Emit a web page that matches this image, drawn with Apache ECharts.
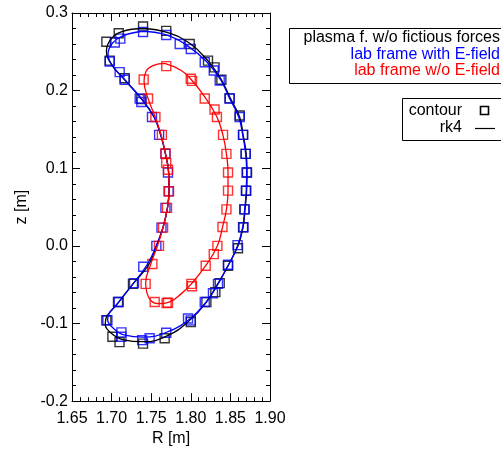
<!DOCTYPE html>
<html>
<head>
<meta charset="utf-8">
<script src="https://cdn.jsdelivr.net/npm/echarts@6/dist/echarts.min.js"></script>
<style>
  html, body { margin: 0; padding: 0; background: #fff; }
  #chart { width: 501px; height: 452px; }
</style>
</head>
<body>
<div id="chart"></div>
<script>
// Orbit cross-section in the (R, z) plane: contour points and rk4 trajectories
const xTicks = [1.65, 1.70, 1.75, 1.80, 1.85, 1.90];
const yTicks = [-0.2, -0.1, 0.0, 0.1, 0.2, 0.3];

const seriesNames = ['plasma f. w/o fictious forces', 'lab frame with E-field', 'lab frame w/o E-field'];
const methodNames = ['contour', 'rk4'];

// contour points, plasma frame without fictitious forces
const blackContour = [
  [1.6934, 0.263], [1.709, 0.274], [1.7397, 0.2826], [1.769, 0.277], [1.7986, 0.260],
  [1.8217, 0.2387], [1.830, 0.230], [1.8386, 0.214], [1.849, 0.190], [1.8617, 0.168],
  [1.866, 0.143], [1.8693, 0.1185], [1.871, 0.0946], [1.870, 0.071], [1.868, 0.047],
  [1.866, 0.024], [1.8596, -0.003], [1.847, -0.0256], [1.8365, -0.048], [1.831, -0.0596],
  [1.8197, -0.0724], [1.800, -0.098], [1.767, -0.119], [1.7397, -0.126], [1.710, -0.124],
  [1.701, -0.117], [1.6934, -0.0959], [1.7081, -0.0724], [1.727, -0.049],
  [1.7376, 0.189], [1.7165, 0.216], [1.6976, 0.2387]
];
// contour points, lab frame with E-field
const blueContour = [
  [1.704, 0.262], [1.711, 0.267], [1.7397, 0.2755], [1.769, 0.2716], [1.786, 0.260],
  [1.800, 0.2537], [1.8176, 0.2366], [1.829, 0.226], [1.8365, 0.213], [1.849, 0.1898],
  [1.8617, 0.166], [1.866, 0.143], [1.8693, 0.1185], [1.8705, 0.0946], [1.8695, 0.071],
  [1.8675, 0.047], [1.8665, 0.024], [1.859, 0.001], [1.847, -0.0243], [1.8343, -0.049],
  [1.828, -0.061], [1.8176, -0.0724], [1.7965, -0.0935], [1.800, -0.096], [1.769, -0.112],
  [1.748, -0.119], [1.7386, -0.1215], [1.7124, -0.117], [1.7124, -0.1115], [1.6947, -0.0959],
  [1.709, -0.0724], [1.7283, -0.048], [1.740, -0.027], [1.7565, 0.0], [1.763, 0.0235],
  [1.768, 0.049], [1.772, 0.0703], [1.7712, 0.0946], [1.768, 0.1185], [1.760, 0.143],
  [1.751, 0.166], [1.7355, 0.1898], [1.7376, 0.1854], [1.7165, 0.214], [1.7102, 0.2238],
  [1.6976, 0.2375]
];
// contour points, lab frame without E-field
const redContour = [
  [1.7405, 0.2144], [1.769, 0.2315], [1.7999, 0.2153], [1.8015, 0.2125], [1.8176, 0.1898],
  [1.830, 0.1757], [1.833, 0.166], [1.8407, 0.143], [1.845, 0.1185], [1.847, 0.0946],
  [1.847, 0.0712], [1.845, 0.047], [1.840, 0.0243], [1.8336, 0.0], [1.829, -0.0106],
  [1.8188, -0.0256], [1.8007, -0.049], [1.8015, -0.052], [1.7712, -0.0733], [1.7695, -0.0737],
  [1.7544, -0.0724], [1.743, -0.049], [1.7515, -0.0234], [1.7598, 0.0], [1.765, 0.0235],
  [1.770, 0.049], [1.7725, 0.0703], [1.7712, 0.098], [1.769, 0.1066], [1.768, 0.1194],
  [1.7635, 0.143], [1.7553, 0.166], [1.746, 0.1898]
];

// rk4 trajectories (closed loops)
const blackRk4 = [
  [1.740, 0.280], [1.770, 0.275], [1.7986, 0.261], [1.822, 0.238], [1.8386, 0.214],
  [1.850, 0.190], [1.8617, 0.166], [1.866, 0.143], [1.870, 0.1185], [1.871, 0.095],
  [1.8705, 0.071], [1.8685, 0.047], [1.866, 0.024], [1.8596, 0.0], [1.847, -0.0256],
  [1.834, -0.049], [1.8197, -0.0724], [1.7986, -0.096], [1.770, -0.116], [1.740, -0.1235],
  [1.715, -0.121], [1.700, -0.113], [1.692, -0.100], [1.6945, -0.090], [1.709, -0.0724],
  [1.727, -0.049], [1.747, -0.024], [1.7565, 0.0], [1.765, 0.024], [1.7705, 0.049],
  [1.7725, 0.071], [1.772, 0.0946], [1.768, 0.1185], [1.762, 0.143], [1.7536, 0.166],
  [1.738, 0.189], [1.7165, 0.214], [1.700, 0.2335], [1.6935, 0.251], [1.699, 0.266],
  [1.713, 0.276], [1.740, 0.280]
];
const blueRk4 = [
  [1.740, 0.2765], [1.770, 0.2715], [1.7955, 0.258], [1.8197, 0.2375], [1.8376, 0.214],
  [1.849, 0.190], [1.8605, 0.166], [1.8655, 0.143], [1.8693, 0.1185], [1.8705, 0.095],
  [1.870, 0.071], [1.868, 0.047], [1.8655, 0.024], [1.859, 0.0], [1.847, -0.0256],
  [1.8345, -0.049], [1.820, -0.0715], [1.7995, -0.0935], [1.770, -0.111], [1.740, -0.1175],
  [1.717, -0.115], [1.702, -0.106], [1.695, -0.095], [1.709, -0.0724], [1.727, -0.049],
  [1.745, -0.024], [1.7565, 0.0], [1.765, 0.024], [1.7705, 0.049], [1.7725, 0.071],
  [1.772, 0.0946], [1.768, 0.1185], [1.762, 0.143], [1.7536, 0.166], [1.738, 0.189],
  [1.7165, 0.214], [1.7005, 0.233], [1.6955, 0.247], [1.701, 0.261], [1.714, 0.2705],
  [1.740, 0.2765]
];
const redRk4 = [
  [1.767, 0.235], [1.788, 0.226], [1.8007, 0.214], [1.8176, 0.192], [1.833, 0.166],
  [1.8405, 0.143], [1.845, 0.1185], [1.847, 0.0946], [1.847, 0.071], [1.845, 0.047],
  [1.840, 0.024], [1.8336, 0.0], [1.8188, -0.0256], [1.8007, -0.049], [1.787, -0.0625],
  [1.7725, -0.0725], [1.760, -0.0745], [1.750, -0.071], [1.7445, -0.060], [1.743, -0.048],
  [1.7495, -0.0234], [1.758, 0.0], [1.765, 0.024], [1.7705, 0.049], [1.7725, 0.071],
  [1.772, 0.0946], [1.768, 0.1185], [1.7625, 0.143], [1.755, 0.166], [1.746, 0.190],
  [1.741, 0.212], [1.7435, 0.225], [1.753, 0.2325], [1.767, 0.235]
];

const COLORS = ['#000000', '#0000ff', '#ff0000'];
const FONT = '"Liberation Sans", Arial, Helvetica, sans-serif';

function contourSeries(name, data, color) {
  return {
    name: name + ' (contour)',
    type: 'scatter',
    data: data,
    symbol: 'rect',
    symbolSize: 9,
    itemStyle: { color: 'rgba(0,0,0,0)', borderColor: color, borderWidth: 1.4 },
    emphasis: { disabled: true },
    silent: true,
    animation: false
  };
}
function rk4Series(name, data, color) {
  return {
    name: name + ' (rk4)',
    type: 'line',
    data: data,
    smooth: 0.45,
    showSymbol: false,
    symbol: 'none',
    lineStyle: { color: color, width: 1.3 },
    emphasis: { disabled: true },
    silent: true,
    animation: false
  };
}

const baseX = {
  type: 'value', min: xTicks[0], max: xTicks[xTicks.length - 1], interval: 0.05,
  axisLine: { onZero: false, lineStyle: { color: '#000', width: 1 } },
  axisTick: { inside: true, length: 8, lineStyle: { color: '#000' } },
  minorTick: { show: true, splitNumber: 5, length: 4, lineStyle: { color: '#000' } },
  splitLine: { show: false }, minorSplitLine: { show: false }
};
const baseY = {
  type: 'value', min: yTicks[0], max: yTicks[yTicks.length - 1], interval: 0.1,
  axisLine: { onZero: false, lineStyle: { color: '#000', width: 1 } },
  axisTick: { inside: true, length: 8, lineStyle: { color: '#000' } },
  minorTick: { show: true, splitNumber: 5, length: 4, lineStyle: { color: '#000' } },
  splitLine: { show: false }, minorSplitLine: { show: false }
};

const chart = echarts.init(document.getElementById('chart'), null, { renderer: 'canvas' });
chart.setOption({
  backgroundColor: '#ffffff',
  animation: false,
  grid: { left: 72, top: 13, width: 198, height: 391, containLabel: false },
  xAxis: [
    Object.assign({}, baseX, {
      position: 'bottom',
      name: 'R [m]', nameLocation: 'middle', nameGap: 27,
      nameTextStyle: { color: '#000', fontSize: 16, fontFamily: FONT },
      axisLabel: { color: '#000', fontSize: 16, fontFamily: FONT, margin: 9,
        formatter: v => v.toFixed(2) }
    }),
    Object.assign({}, baseX, { position: 'top', axisLabel: { show: false } })
  ],
  yAxis: [
    Object.assign({}, baseY, {
      position: 'left',
      name: 'z [m]', nameLocation: 'middle', nameGap: 42,
      nameTextStyle: { color: '#000', fontSize: 16, fontFamily: FONT },
      axisLabel: { color: '#000', fontSize: 16, fontFamily: FONT, margin: 4,
        formatter: v => v.toFixed(1) }
    }),
    Object.assign({}, baseY, { position: 'right', axisLabel: { show: false } })
  ],
  series: [
    contourSeries(seriesNames[0], blackContour, COLORS[0]),
    rk4Series(seriesNames[0], blackRk4, COLORS[0]),
    contourSeries(seriesNames[1], blueContour, COLORS[1]),
    rk4Series(seriesNames[1], blueRk4, COLORS[1]),
    contourSeries(seriesNames[2], redContour, COLORS[2]),
    rk4Series(seriesNames[2], redRk4, COLORS[2])
  ],
  graphic: [
    // frame legend
    { type: 'rect', shape: { x: 289.5, y: 28.5, width: 230, height: 55 },
      style: { fill: 'none', stroke: '#000', lineWidth: 1 } },
    { type: 'text', x: 500, y: 38, style: { text: seriesNames[0], fill: COLORS[0], font: '16px ' + FONT,
      textAlign: 'right', textVerticalAlign: 'middle', align: 'right', verticalAlign: 'middle' } },
    { type: 'text', x: 500, y: 54.5, style: { text: seriesNames[1], fill: COLORS[1], font: '16px ' + FONT,
      textAlign: 'right', textVerticalAlign: 'middle', align: 'right', verticalAlign: 'middle' } },
    { type: 'text', x: 500, y: 71, style: { text: seriesNames[2], fill: COLORS[2], font: '16px ' + FONT,
      textAlign: 'right', textVerticalAlign: 'middle', align: 'right', verticalAlign: 'middle' } },
    // method legend
    { type: 'rect', shape: { x: 402.5, y: 98.5, width: 120, height: 42 },
      style: { fill: 'none', stroke: '#000', lineWidth: 1 } },
    { type: 'text', x: 462, y: 111, style: { text: methodNames[0], fill: '#000', font: '16px ' + FONT,
      textAlign: 'right', textVerticalAlign: 'middle', align: 'right', verticalAlign: 'middle' } },
    { type: 'rect', shape: { x: 480.5, y: 106.5, width: 8, height: 8 },
      style: { fill: 'none', stroke: '#000', lineWidth: 1.6 } },
    { type: 'text', x: 462, y: 128, style: { text: methodNames[1], fill: '#000', font: '16px ' + FONT,
      textAlign: 'right', textVerticalAlign: 'middle', align: 'right', verticalAlign: 'middle' } },
    { type: 'line', shape: { x1: 475, y1: 128.5, x2: 495, y2: 128.5 },
      style: { stroke: '#000', lineWidth: 1.2 } }
  ]
});
</script>
</body>
</html>
